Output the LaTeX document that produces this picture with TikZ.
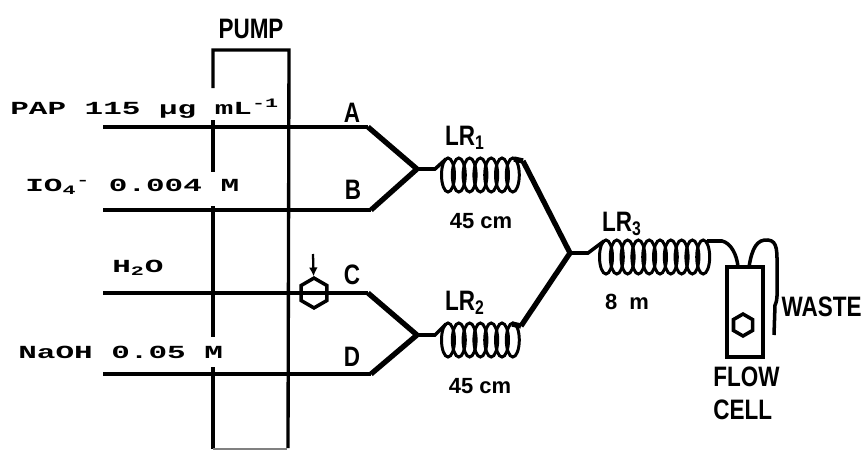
\documentclass[tikz,border=0pt]{standalone}
\usepackage{fontspec}
\usetikzlibrary{arrows.meta, positioning, shapes.geometric}
\newfontfamily\slabfont[FakeStretch=1.68]{Liberation Mono}
\newfontfamily\narrowfont[FakeStretch=0.8]{Liberation Sans}
\newfontfamily\lengthfont{Liberation Sans}

\begin{document}
\begin{tikzpicture}[
      x=0.02cm, y=-0.02cm,
      tube/.style={line width=2pt},
      mixtube/.style={line width=3pt},
      wall/.style={line width=1.9pt},
      coilloop/.style={line width=1.7pt},
      hexa/.style={draw, line width=2pt, regular polygon, regular polygon sides=6,
                   shape border rotate=30, inner sep=0},
      reagent/.style={inner sep=0, font=\fontsize{10.5}{12}\selectfont\slabfont\bfseries},
      tag/.style={inner sep=0, font=\fontsize{16}{17}\selectfont\narrowfont\bfseries},
      lengthtag/.style={inner sep=0, font=\fontsize{12.5}{13}\selectfont\lengthfont\bfseries},
    ]
    \useasboundingbox (0,0) rectangle (862,450);

    % ---- LEFT: pump and reagent lines ----
    \node[tag] (pump) at (251,29) {PUMP};
    \draw[wall] (213,88) -- (213,50) -- (289,50) -- (288,448);
    \foreach \ya/\yb in {120/172, 206/337, 367/449} {
      \draw[wall] (213,\ya) -- (213,\yb);
    }
    \draw[line width=0.7pt, gray] (213,449) -- (287,449);

    \node[reagent, anchor=west] (pap) at (10,109) {PAP 115 µg mL\textsuperscript{-1}};
    \node[reagent, anchor=west] (iod) at (25,187) {IO\textsubscript{4}\textsuperscript{-} 0.004 M};
    \node[reagent, anchor=west] (water) at (112,268) {H\textsubscript{2}O};
    \node[reagent, anchor=west] (naoh) at (18,352) {NaOH 0.05 M};

    \node[tag] (tagA) at (352,113) {A};
    \node[tag] (tagB) at (353,190) {B};
    \node[tag] (tagC) at (352,275) {C};
    \node[tag] (tagD) at (352,357) {D};

    % Free ends and bends of the tubes
    \coordinate (startA) at (103,127);
    \coordinate (startB) at (103,210);
    \coordinate (startC) at (103,293);
    \coordinate (startD) at (103,374);
    \coordinate (bendA) at (368,127);
    \coordinate (bendB) at (371,210);
    \coordinate (bendC) at (368,293);
    \coordinate (bendD) at (371,374);
    \coordinate (meetAB) at (417,169);
    \coordinate (meetCD) at (417,335);
    \coordinate (meetAll) at (570,253);

    \draw[tube] (startA) -- (bendA);
    \draw[tube] (startB) -- (bendB);
    \draw[tube] (startC) -- (bendC);
    \draw[tube] (startD) -- (bendD);
    \draw[mixtube] (bendA) -- (meetAB) -- (bendB);
    \draw[mixtube] (bendC) -- (meetCD) -- (bendD);

    % Injection valve
    \node[hexa, minimum size=17pt] (valve) at (314,293) {};
    \coordinate (inject) at (313,254);
    \draw[-{Latex[length=5pt,width=5pt]}, line width=1.3pt] (inject) -- (valve);

    % ---- MIDDLE: reaction coils ----
    \foreach \x in {0,...,6} {
      \draw[coilloop] (448+10.8*\x,175) ellipse (6.5 and 17);
      \draw[coilloop] (448+10.8*\x,340) ellipse (6.5 and 17);
    }
    \foreach \x in {0,...,9} {
      \draw[coilloop] (606+10.8*\x,257) ellipse (6.5 and 17);
    }
    \coordinate (inA) at (446,159);
    \coordinate (outA) at (523,161);
    \coordinate (inB) at (446,324);
    \coordinate (outB) at (521,326);
    \coordinate (inC) at (604,241);
    \coordinate (outC) at (707,241);

    \draw[tube] (meetAB) -- (435,169) -- (inA);
    \draw[tube] (meetCD) -- (435,335) -- (inB);
    \draw[mixtube] (outA) -- (514,159);
    \draw[mixtube] (outB) -- (512,324);
    \draw[mixtube] (outA) -- (meetAll) -- (outB);
    \draw[tube] (meetAll) -- (588,253) -- (inC);

    \node[tag] (lrA) at (465,138) {LR\textsubscript{1}};
    \node[lengthtag] (lenA) at (481,221) {45 cm};
    \node[tag] (lrB) at (465,303) {LR\textsubscript{2}};
    \node[lengthtag] (lenB) at (480,386) {45 cm};
    \node[tag] (lrC) at (622,224) {LR\textsubscript{3}};
    \node[lengthtag] (lenC) at (627,302) {8\ \ m};

    % ---- RIGHT: flow cell and waste ----
    \node[draw, line width=2pt, minimum width=20.4pt, minimum height=51pt, inner sep=0]
      (cell) at (745,312) {};
    \node[hexa, minimum size=12.5pt] (window) at (743,325) {};
    \coordinate (cellin) at (738,267);
    \coordinate (cellout) at (749,267);
    \coordinate (wasteend) at (774,335);

    \draw[tube] (outC) -- (722,241) .. controls (731,243) and (737,255) .. (cellin);
    \draw[tube] (cellout) .. controls (752,248) and (757,239) .. (768,240)
      .. controls (778,241) and (777,252) .. (777,270)
      .. controls (777,290) and (778,300) .. (775,305) -- (wasteend);

    \node[tag, anchor=west] (flow) at (713,377) {FLOW};
    \node[tag, anchor=west] (flowcell) at (713,410) {CELL};
    \node[tag, anchor=east] (waste) at (862,307) {WASTE};
  \end{tikzpicture}
\end{document}
